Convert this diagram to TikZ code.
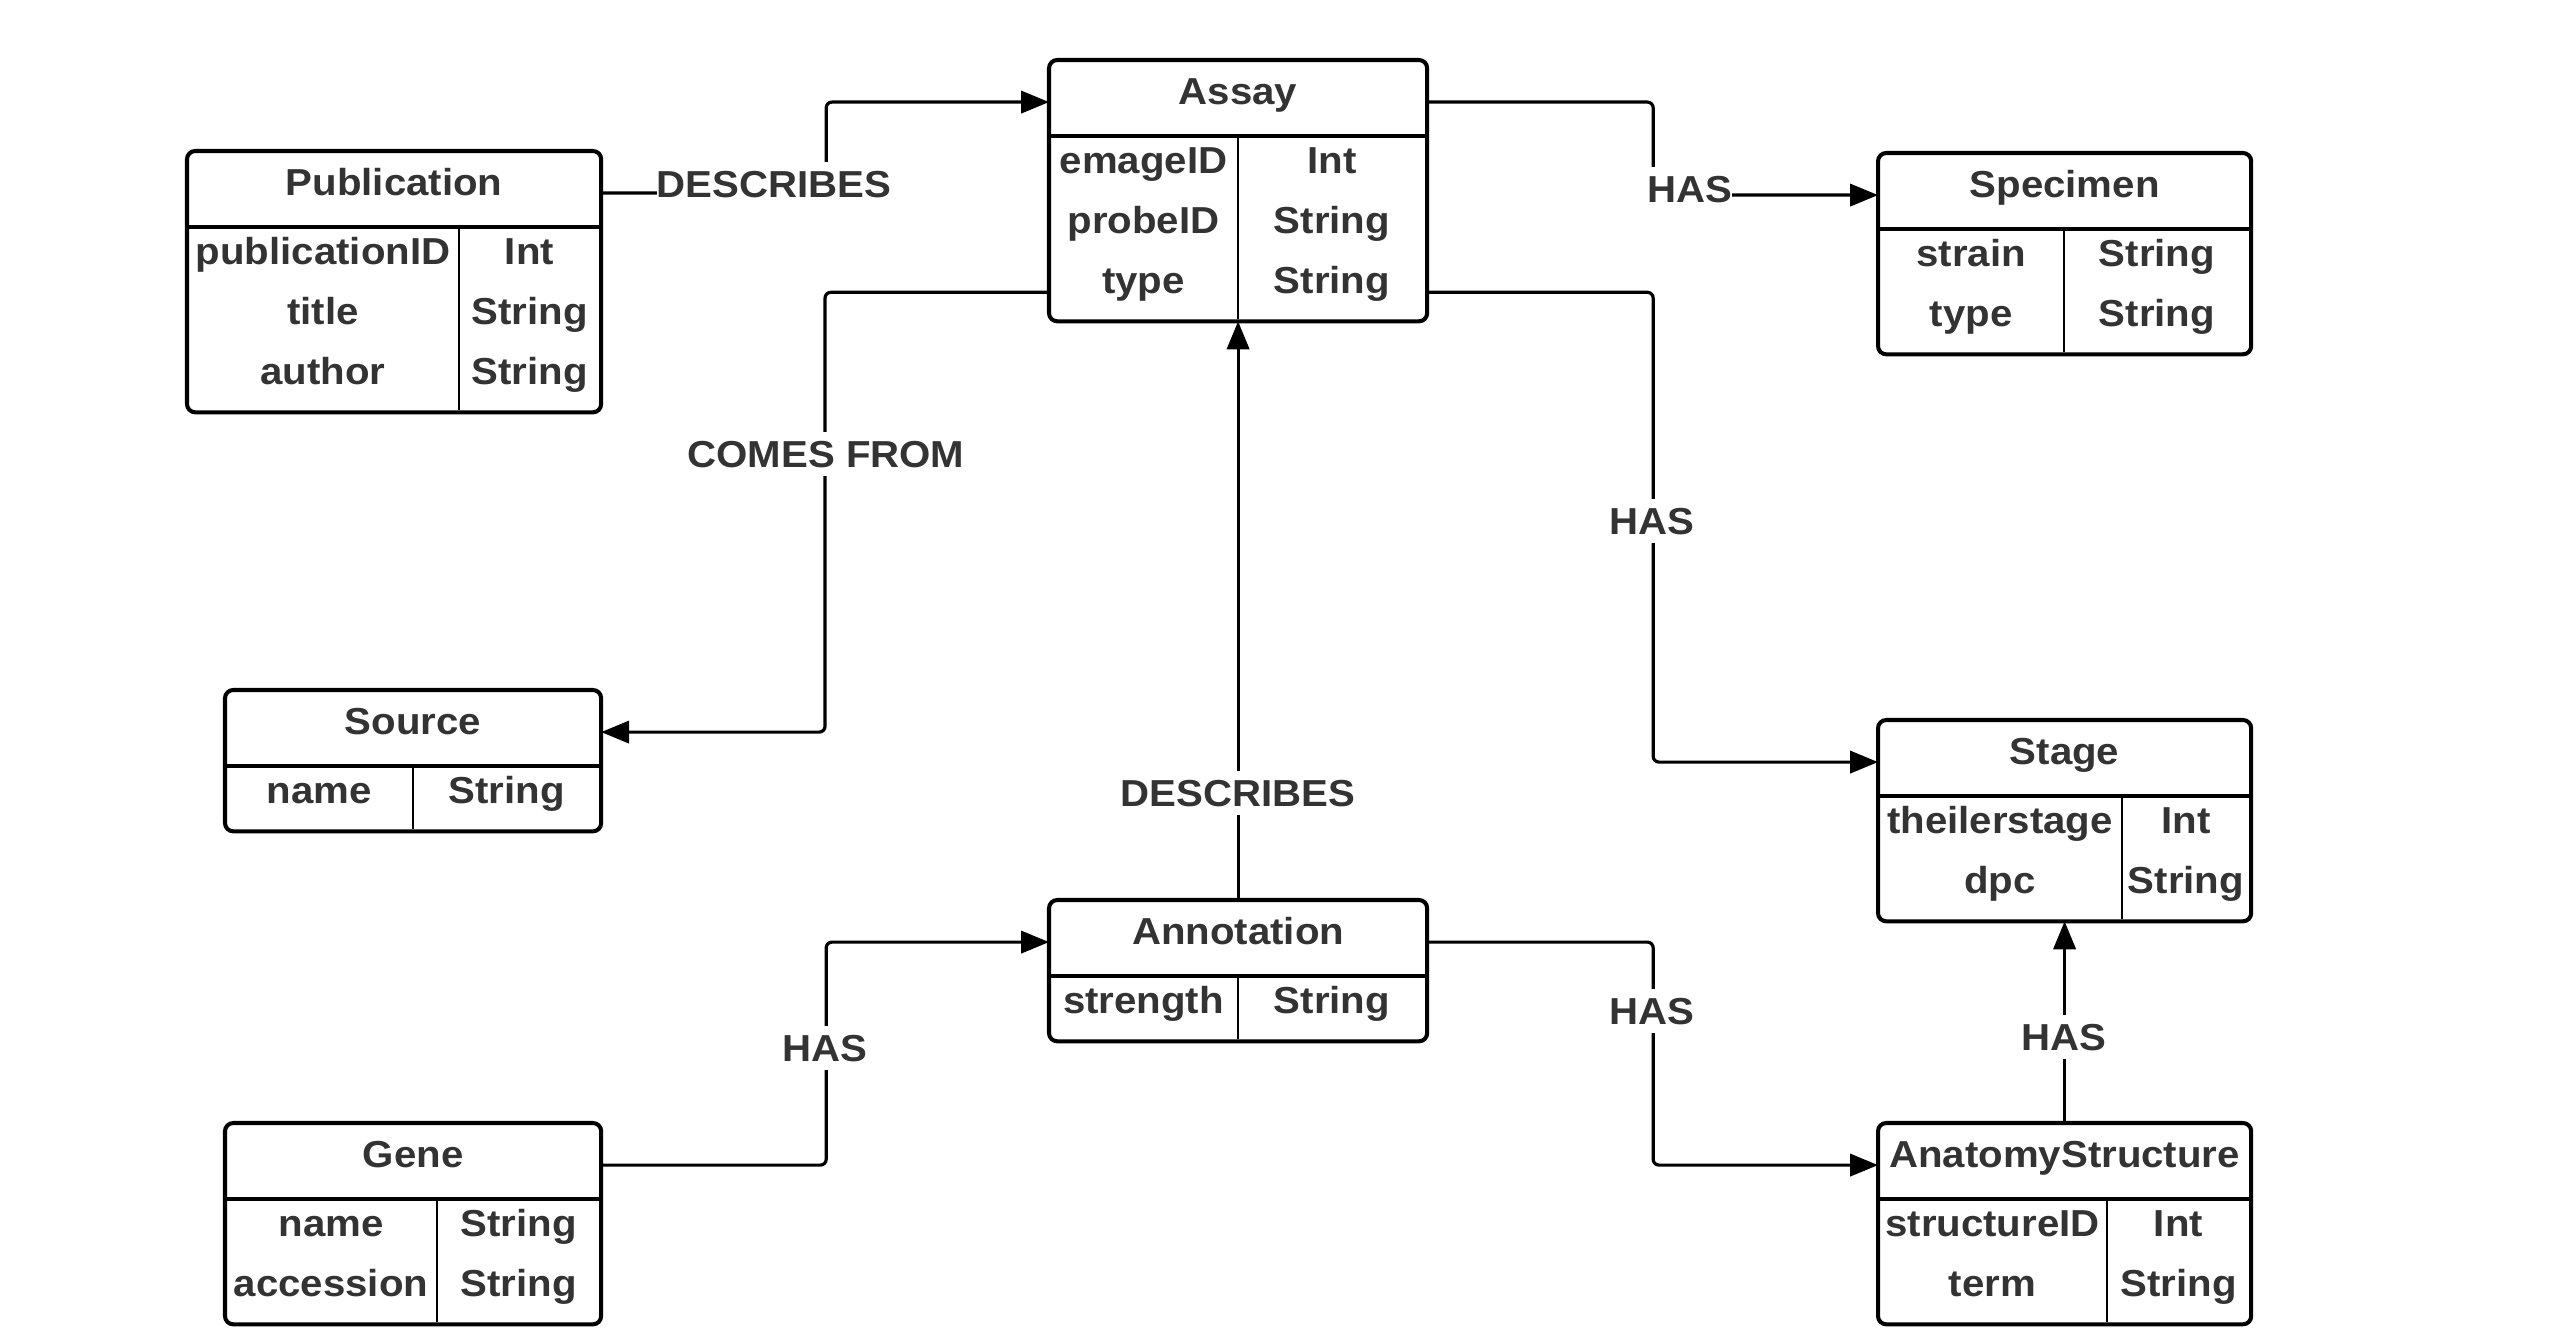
\documentclass[tikz,border=0pt]{standalone}
\usepackage{fontspec}
\setmainfont{Liberation Sans}[FakeStretch=1.07]
\usetikzlibrary{arrows.meta,calc}
\definecolor{labelgray}{HTML}{333333}
\newcommand{\pxu}{0.012157cm}
\tikzset{
  tabhead/.style={anchor=north west, inner sep=0pt, minimum height=75*\pxu, text height=0.33cm, text depth=0.17cm, font=\fontsize{13}{15}\selectfont\bfseries, text=labelgray},
  tabbody/.style={anchor=north west, inner sep=0pt},
  fieldtxt/.style={anchor=base, inner sep=0pt, font=\fontsize{13}{15}\selectfont\bfseries, text=labelgray},
  tabline/.style={line width=1.4pt},
  colline/.style={line width=1pt},
  rel/.style={line width=1.1pt, rounded corners=0.07cm, -{Triangle[length=0.34cm,width=0.27cm]}},
  rellabel/.style={fill=white, inner xsep=0pt, inner ysep=0.1cm, text height=0.33cm, text depth=0pt, font=\fontsize{13}{15}\selectfont\bfseries, text=labelgray}
}
% #1 name, #2 x, #3 y, #4 width, #5 column line x, #6 rows, #7 title, #8 field/type list
\newcommand{\ertable}[8]{%
  \node[tabhead, minimum width=#4*\pxu] (#1) at (#2,#3) {#7};
  \node[tabbody, minimum width=#4*\pxu, minimum height={(60*#6+4)*\pxu}] (#1-b) at (#1.south west) {};
  \draw[tabline, rounded corners=0.1cm] (#1.north west) rectangle (#1-b.south east);
  \draw[tabline] (#1.south west) -- (#1.south east);
  \draw[colline] (#5,{#3+75}) -- (#5,{#3+79+60*#6});
  \foreach \fld/\typ [count=\i] in {#8} {
    \node[fieldtxt] (#1-f\i) at ({(#2+#5)/2},{#3+113+60*(\i-1)}) {\fld};
    \node[fieldtxt] (#1-t\i) at ({(#5+#2+#4)/2},{#3+113+60*(\i-1)}) {\typ};
  }
}

\begin{document}
\begin{tikzpicture}[x=0.012157cm, y=-0.012157cm]
\useasboundingbox (0,0) rectangle (2550,1336);

% Tables
\ertable{pub}{187}{151}{413}{459}{3}{Publication}{publicationID/Int, title/String, author/String}
\ertable{assay}{1049}{60}{377}{1238}{3}{Assay}{emageID/Int, probeID/String, type/String}
\ertable{specimen}{1878}{153}{372}{2064}{2}{Specimen}{strain/String, type/String}
\ertable{source}{225}{690}{375}{413}{1}{Source}{name/String}
\ertable{stage}{1878}{720}{372}{2122}{2}{Stage}{theilerstage/Int, dpc/String}
\ertable{annot}{1049}{900}{377}{1238}{1}{Annotation}{strength/String}
\ertable{gene}{225}{1123}{375}{437}{2}{Gene}{name/String, accession/String}
\ertable{anatomy}{1878}{1123}{372}{2107}{2}{AnatomyStructure}{structureID/Int, term/String}

% Connectors
\draw[rel] ($(pub.east)+(0,4)$) -- ++(225,0) |- ($(assay.west)+(0,4)$);
\draw[rel] ($(assay.east)+(0,4)$) -- ++(226,0) |- ($(specimen.west)+(0,4)$);
\draw[rel] ($(assay-b.south west)+(0,-29)$) -- ++(-224,0) |- ($(source.east)+(0,4)$);
\draw[rel] ($(assay-b.south east)+(0,-29)$) -- ++(226,0) |- ($(stage.west)+(0,4)$);
\draw[rel] (annot.north) -- (assay-b.south);
\draw[rel] ($(gene.east)+(0,4)$) -- ++(225,0) |- ($(annot.west)+(0,4)$);
\draw[rel] ($(annot.east)+(0,4)$) -- ++(226,0) |- ($(anatomy.west)+(0,4)$);
\draw[rel] (anatomy.north) -- (stage-b.south);

% Labels
\node[rellabel] (descPub) at (774,184) {DESCRIBES};
\node[rellabel] (hasSpec) at (1690,189) {HAS};
\node[rellabel] (comesFrom) at (826,454) {COMES FROM};
\node[rellabel] (hasStage) at (1652,521) {HAS};
\node[rellabel] (descAnnot) at (1238,793) {DESCRIBES};
\node[rellabel] (hasGene) at (825,1048) {HAS};
\node[rellabel] (hasAnat) at (1652,1011) {HAS};
\node[rellabel] (hasStruct) at (2064,1037) {HAS};
\end{tikzpicture}
\end{document}
